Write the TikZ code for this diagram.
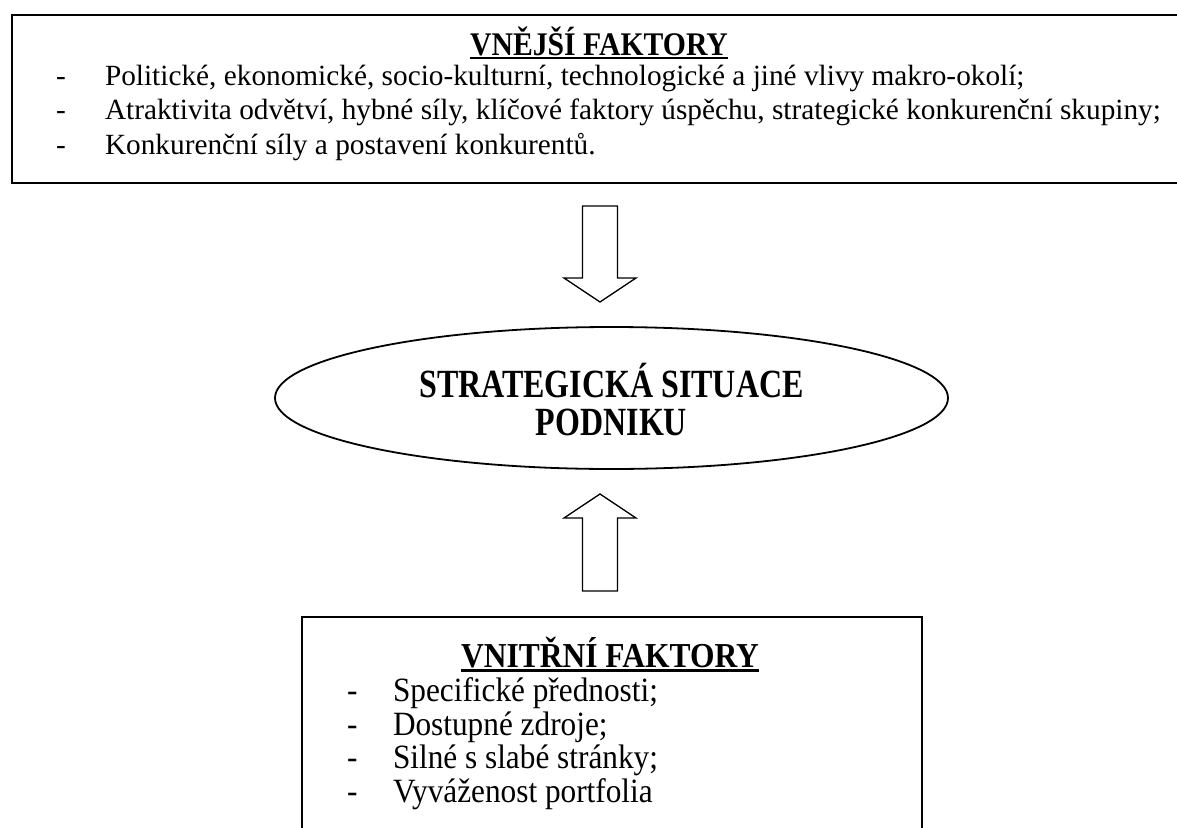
\documentclass[tikz,border=0pt]{standalone}
\usepackage{fontspec}
\setmainfont{Liberation Serif}
% narrower cuts of the same serif for the headings
\newfontfamily\headfam{Liberation Serif}[FakeStretch=0.90]
\newfontfamily\sitfam{Liberation Serif}[FakeStretch=0.80]
\newfontfamily\intfam{Liberation Serif}[FakeStretch=0.92]
\usetikzlibrary{shapes.geometric}
\begin{document}
\begin{tikzpicture}[x=1pt,y=-1pt,
  frame/.style={draw, line width=1.6pt, inner sep=0pt, anchor=north west},
  blockarrow/.style={draw, line width=1.3pt, line join=miter, fill=white},
  txt/.style={inner sep=0pt, outer sep=0pt},
  extfont/.style={txt, anchor=base west, font=\fontsize{29.3}{35}\selectfont},
  exthead/.style={txt, anchor=base, font=\headfam\fontsize{33}{39}\selectfont\bfseries},
  intfont/.style={txt, anchor=base west, font=\intfam\fontsize{34}{40}\selectfont},
  inthead/.style={txt, anchor=base, font=\headfam\fontsize{35}{41}\selectfont\bfseries},
  sitfont/.style={txt, anchor=base, font=\sitfam\fontsize{40}{46}\selectfont\bfseries},
  headrule/.style={line width=2.6pt}
]
\useasboundingbox (0,0) rectangle (1177,827);
\clip (0,0) rectangle (1177,827);

% external factors box (runs past the right margin)
\node[frame, minimum width=1220, minimum height=168] (ext) at (11,14) {};
\node[exthead] (exttitle) at (599,55) {VNĚJŠÍ FAKTORY};
\draw[headrule] ([yshift=-3pt]exttitle.base west) -- ([yshift=-3pt]exttitle.base east);
\node[extfont] (ed1) at (56,85) {-};
\node[extfont] (e1) at (105,85) {Politické, ekonomické, socio-kulturní, technologické a jiné vlivy makro-okolí;};
\node[extfont] (ed2) at (56,119.5) {-};
\node[extfont] (e2) at (105,119.5) {Atraktivita odvětví, hybné síly, klíčové faktory úspěchu, strategické konkurenční skupiny;};
\node[extfont] (ed3) at (56,154) {-};
\node[extfont] (e3) at (105,154) {Konkurenční síly a postavení konkurentů.};

% strategic situation
\node[draw, ellipse, line width=1.8pt, minimum width=673, minimum height=142, inner sep=0pt] (sit) at (611.5,398) {};
\node[sitfont] (sit1) at (611.5,397) {STRATEGICKÁ SITUACE};
\node[sitfont] (sit2) at (611.5,435) {PODNIKU};

% internal factors box (runs past the bottom margin)
\node[frame, minimum width=620, minimum height=260] (int) at (301,616) {};
\node[inthead] (inttitle) at (610,667) {VNITŘNÍ FAKTORY};
\draw[headrule] ([yshift=-3.5pt]inttitle.base west) -- ([yshift=-3.5pt]inttitle.base east);
\node[intfont] (id1) at (347,701) {-};
\node[intfont] (i1) at (393,701) {Specifické přednosti;};
\node[intfont] (id2) at (347,735) {-};
\node[intfont] (i2) at (393,735) {Dostupné zdroje;};
\node[intfont] (id3) at (347,768) {-};
\node[intfont] (i3) at (393,768) {Silné s slabé stránky;};
\node[intfont] (id4) at (347,802) {-};
\node[intfont] (i4) at (393,802) {Vyváženost portfolia};

% block arrows towards the ellipse
\coordinate (downtail) at (600,206);
\coordinate (downtip) at (600,302);
\draw[blockarrow] (downtail) ++(-17.5,0) -- ++(35,0) -- ++(0,72) -- ++(18.5,0)
  -- (downtip) -- ++(-36,-24) -- ++(18.5,0) -- cycle;

\coordinate (uptail) at (600,591);
\coordinate (uptip) at (600,494);
\draw[blockarrow] (uptail) ++(-17.5,0) -- ++(35,0) -- ++(0,-73) -- ++(18.5,0)
  -- (uptip) -- ++(-36,24) -- ++(18.5,0) -- cycle;
\end{tikzpicture}
\end{document}
